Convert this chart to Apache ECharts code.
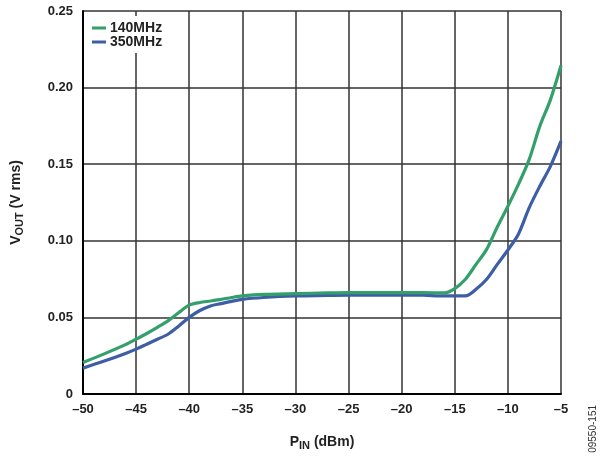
<!DOCTYPE html>
<html><head><meta charset="utf-8">
<script src="https://cdn.jsdelivr.net/npm/echarts@6/dist/echarts.min.js"></script>
<style>html,body{margin:0;padding:0;background:#fff}#c{width:613px;height:456px}</style>
</head><body><div id="c"></div>
<script>
const pinDbm = [-50,-48,-46,-45,-44,-43,-42,-41,-40,-39,-38,-37,-36,-35,-33,-30,-27,-25,-22,-20,-18,-16,-15,-14,-13,-12,-11,-10,-9,-8,-7,-6,-5];
const vout140 = [0.0206,0.0262,0.0322,0.0358,0.0395,0.0435,0.0477,0.053,0.058,0.0597,0.0607,0.0618,0.063,0.064,0.065,0.0655,0.066,0.0662,0.0662,0.0662,0.0662,0.066,0.0688,0.0749,0.0846,0.0944,0.109,0.1226,0.137,0.153,0.1747,0.192,0.2144];
const vout350 = [0.0169,0.0215,0.0265,0.0293,0.0325,0.0357,0.039,0.0443,0.050,0.0545,0.0575,0.059,0.0605,0.0618,0.063,0.064,0.0643,0.0645,0.0645,0.0646,0.0645,0.064,0.064,0.064,0.0684,0.0749,0.0846,0.094,0.1045,0.1215,0.1356,0.1486,0.165];
const seriesNames = ['140MHz','350MHz'];
const xTicks = [-50,-45,-40,-35,-30,-25,-20,-15,-10,-5];
const yTicks = [0,0.05,0.10,0.15,0.20,0.25];
const colors = ['#33a06c','#3d5ea6'];
const font = '"Liberation Sans", Arial, sans-serif';
const chart = echarts.init(document.getElementById('c'));
const titleRich = {
  a:{fontFamily:font,fontWeight:'bold',fontSize:14,color:'#222'},
  s:{fontFamily:font,fontWeight:'bold',fontSize:11,color:'#222',verticalAlign:'bottom',padding:[7,0,0,0]}
};
chart.setOption({
  animation:false,
  textStyle:{fontFamily:font},
  grid:{left:83,right:52,top:11,bottom:61},
  legend:{
    left:92,top:21,orient:'vertical',itemGap:0,itemWidth:14,itemHeight:3,
    icon:'rect',z:10,padding:0,
    textStyle:{fontFamily:font,fontWeight:'bold',fontSize:14,lineHeight:12,color:'#222',padding:[0,0,0,-1]},
    data:seriesNames
  },
  xAxis:{
    type:'value',min:-50,max:-5,interval:5,
    axisLine:{show:true,lineStyle:{color:'#000',width:2}},
    axisTick:{show:false},
    splitLine:{show:true,lineStyle:{color:'#333',width:1.5}},
    axisLabel:{fontFamily:font,fontWeight:'bold',fontSize:13,color:'#222',margin:9,
      formatter:v=>xTicks.includes(v)?String(v).replace('-','\u2013'):''},
    name:'{a|P}{s|IN}{a| (dBm)}',nameLocation:'middle',nameGap:39,
    nameTextStyle:{rich:titleRich}
  },
  yAxis:{
    type:'value',min:0,max:0.25,interval:0.05,
    axisLine:{show:true,lineStyle:{color:'#000',width:2}},
    axisTick:{show:false},
    splitLine:{show:true,lineStyle:{color:'#333',width:1.5}},
    axisLabel:{fontFamily:font,fontWeight:'bold',fontSize:13,color:'#222',margin:10,
      formatter:v=>v===0?'0':v.toFixed(2)},
    name:'{a|V}{s|OUT}{a| (V rms)}',nameLocation:'middle',nameGap:58,
    nameTextStyle:{rich:titleRich}
  },
  graphic:[
    {type:'rect',left:89,top:16,shape:{width:80,height:37},style:{fill:'#fff'},z:5},
    {type:'text',left:588,top:405,rotation:Math.PI/2,
     style:{text:'09550-151',fontFamily:font,fontSize:10,fill:'#333'}}
  ],
  series:[
    {name:seriesNames[0],type:'line',showSymbol:false,smooth:0.3,
     data:pinDbm.map((x,i)=>[x,vout140[i]]),lineStyle:{color:colors[0],width:3.2},itemStyle:{color:colors[0]},z:3},
    {name:seriesNames[1],type:'line',showSymbol:false,smooth:0.3,
     data:pinDbm.map((x,i)=>[x,vout350[i]]),lineStyle:{color:colors[1],width:3.2},itemStyle:{color:colors[1]},z:2}
  ]
});
</script></body></html>
